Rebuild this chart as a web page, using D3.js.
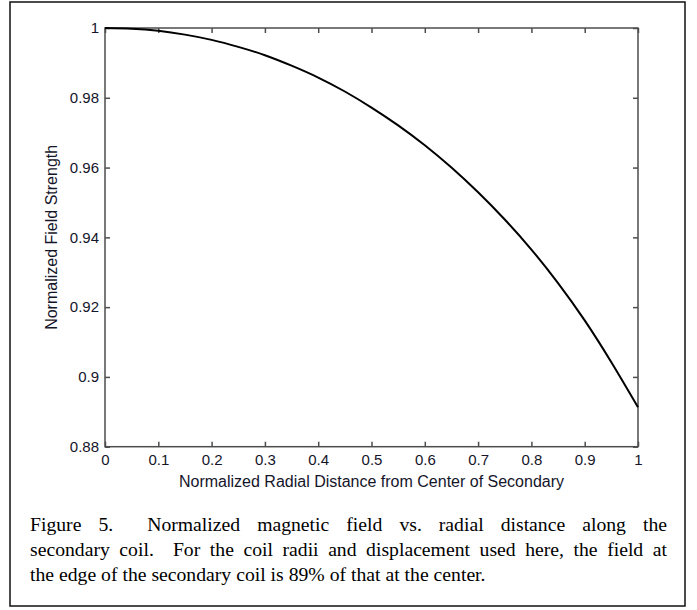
<!DOCTYPE html>
<html>
<head>
  <meta charset="UTF-8">
  <title>Figure 5</title>
  <script src="https://d3js.org/d3.v7.min.js"></script>
  <style>
    body {
      margin: 0;
      padding: 0;
      background: #fff;
    }
    svg {
      display: block;
    }
    .axis text {
      font-family: "Liberation Sans", Arial, sans-serif;
      font-size: 15px;
      fill: #15152a;
    }
    .axis line {
      stroke: #4d4d4d;
      stroke-width: 1.5;
    }
    .label {
      font-family: "Liberation Sans", Arial, sans-serif;
      font-size: 16px;
      fill: #15152a;
    }
    .caption {
      font-family: "Liberation Serif", "Times New Roman", serif;
      font-size: 19.7px;
      fill: #000;
    }
  </style>
</head>
<body>

<script>
  const width = 697;
  const height = 610;

  // radial distance (normalized) and field strength (normalized)
  const distance = [0, 0.05, 0.1, 0.15, 0.2, 0.25, 0.3, 0.35, 0.4, 0.45, 0.5,
                    0.55, 0.6, 0.65, 0.7, 0.75, 0.8, 0.85, 0.9, 0.95, 1.0];
  const field = [1.0000, 0.9998, 0.9992, 0.9981, 0.9966, 0.9946, 0.9922, 0.9892, 0.9858, 0.9818, 0.9772,
                 0.9721, 0.9664, 0.9600, 0.9529, 0.9451, 0.9365, 0.9269, 0.9162, 0.9042, 0.8913];

  const xTicks = [0, 0.1, 0.2, 0.3, 0.4, 0.5, 0.6, 0.7, 0.8, 0.9, 1];
  const yTicks = [0.88, 0.9, 0.92, 0.94, 0.96, 0.98, 1];

  const captionLines = [
    "Figure 5.  Normalized magnetic field vs. radial distance along the",
    "secondary coil.  For the coil radii and displacement used here, the field at",
    "the edge of the secondary coil is 89% of that at the center."
  ];

  const margin = {left: 105, top: 28, right: 638, bottom: 446.7};

  const svg = d3.select("body")
    .append("svg")
    .attr("width", width)
    .attr("height", height);

  // outer figure frame
  svg.append("rect")
    .attr("x", 10)
    .attr("y", 2)
    .attr("width", 675)
    .attr("height", 604)
    .attr("fill", "none")
    .attr("stroke", "#111")
    .attr("stroke-width", 1.5);

  const x = d3.scaleLinear().domain([0, 1]).range([margin.left, margin.right]);
  const y = d3.scaleLinear().domain([0.88, 1]).range([margin.bottom, margin.top]);

  const fmt = d => d3.format("")(+d.toFixed(2));

  svg.append("g")
    .attr("class", "axis")
    .attr("transform", `translate(0,${margin.bottom})`)
    .call(d3.axisBottom(x).tickValues(xTicks).tickSize(-5).tickPadding(8).tickFormat(fmt))
    .call(g => g.select(".domain").remove());

  svg.append("g")
    .attr("class", "axis")
    .attr("transform", `translate(0,${margin.top})`)
    .call(d3.axisTop(x).tickValues(xTicks).tickSize(-5).tickFormat(""))
    .call(g => g.select(".domain").remove());

  svg.append("g")
    .attr("class", "axis")
    .attr("transform", `translate(${margin.left},0)`)
    .call(d3.axisLeft(y).tickValues(yTicks).tickSize(-5).tickPadding(6).tickFormat(fmt))
    .call(g => g.select(".domain").remove());

  svg.append("g")
    .attr("class", "axis")
    .attr("transform", `translate(${margin.right},0)`)
    .call(d3.axisRight(y).tickValues(yTicks).tickSize(-5).tickFormat(""))
    .call(g => g.select(".domain").remove());

  // plot box
  svg.append("rect")
    .attr("x", margin.left)
    .attr("y", margin.top)
    .attr("width", margin.right - margin.left)
    .attr("height", margin.bottom - margin.top)
    .attr("fill", "none")
    .attr("stroke", "#4d4d4d")
    .attr("stroke-width", 1.5);

  const line = d3.line()
    .x((d, i) => x(distance[i]))
    .y(d => y(d))
    .curve(d3.curveNatural);

  svg.append("path")
    .datum(field)
    .attr("d", line)
    .attr("fill", "none")
    .attr("stroke", "#000")
    .attr("stroke-width", 2);

  svg.append("text")
    .attr("class", "label")
    .attr("x", (margin.left + margin.right) / 2)
    .attr("y", 487)
    .attr("text-anchor", "middle")
    .text("Normalized Radial Distance from Center of Secondary");

  svg.append("text")
    .attr("class", "label")
    .attr("transform", `translate(57,${(margin.top + margin.bottom) / 2}) rotate(-90)`)
    .attr("text-anchor", "middle")
    .text("Normalized Field Strength");

  // caption, justified except the last line
  const capLeft = 30, capRight = 667;
  const baselines = [531, 556, 581];

  captionLines.forEach((str, li) => {
    const words = str.split(" ");
    const t = svg.append("text").attr("class", "caption").attr("y", baselines[li]);
    const spans = words.map(w => t.append("tspan").text(w));
    const widths = spans.map(s => s.node().getComputedTextLength());
    const space = 19.7 * 0.25;
    const total = d3.sum(widths);
    const gap = li < captionLines.length - 1
      ? (capRight - capLeft - total) / (words.length - 1)
      : space;
    let cx = capLeft;
    spans.forEach((s, i) => {
      s.attr("x", cx);
      cx += widths[i] + gap;
    });
  });
</script>

</body>
</html>
